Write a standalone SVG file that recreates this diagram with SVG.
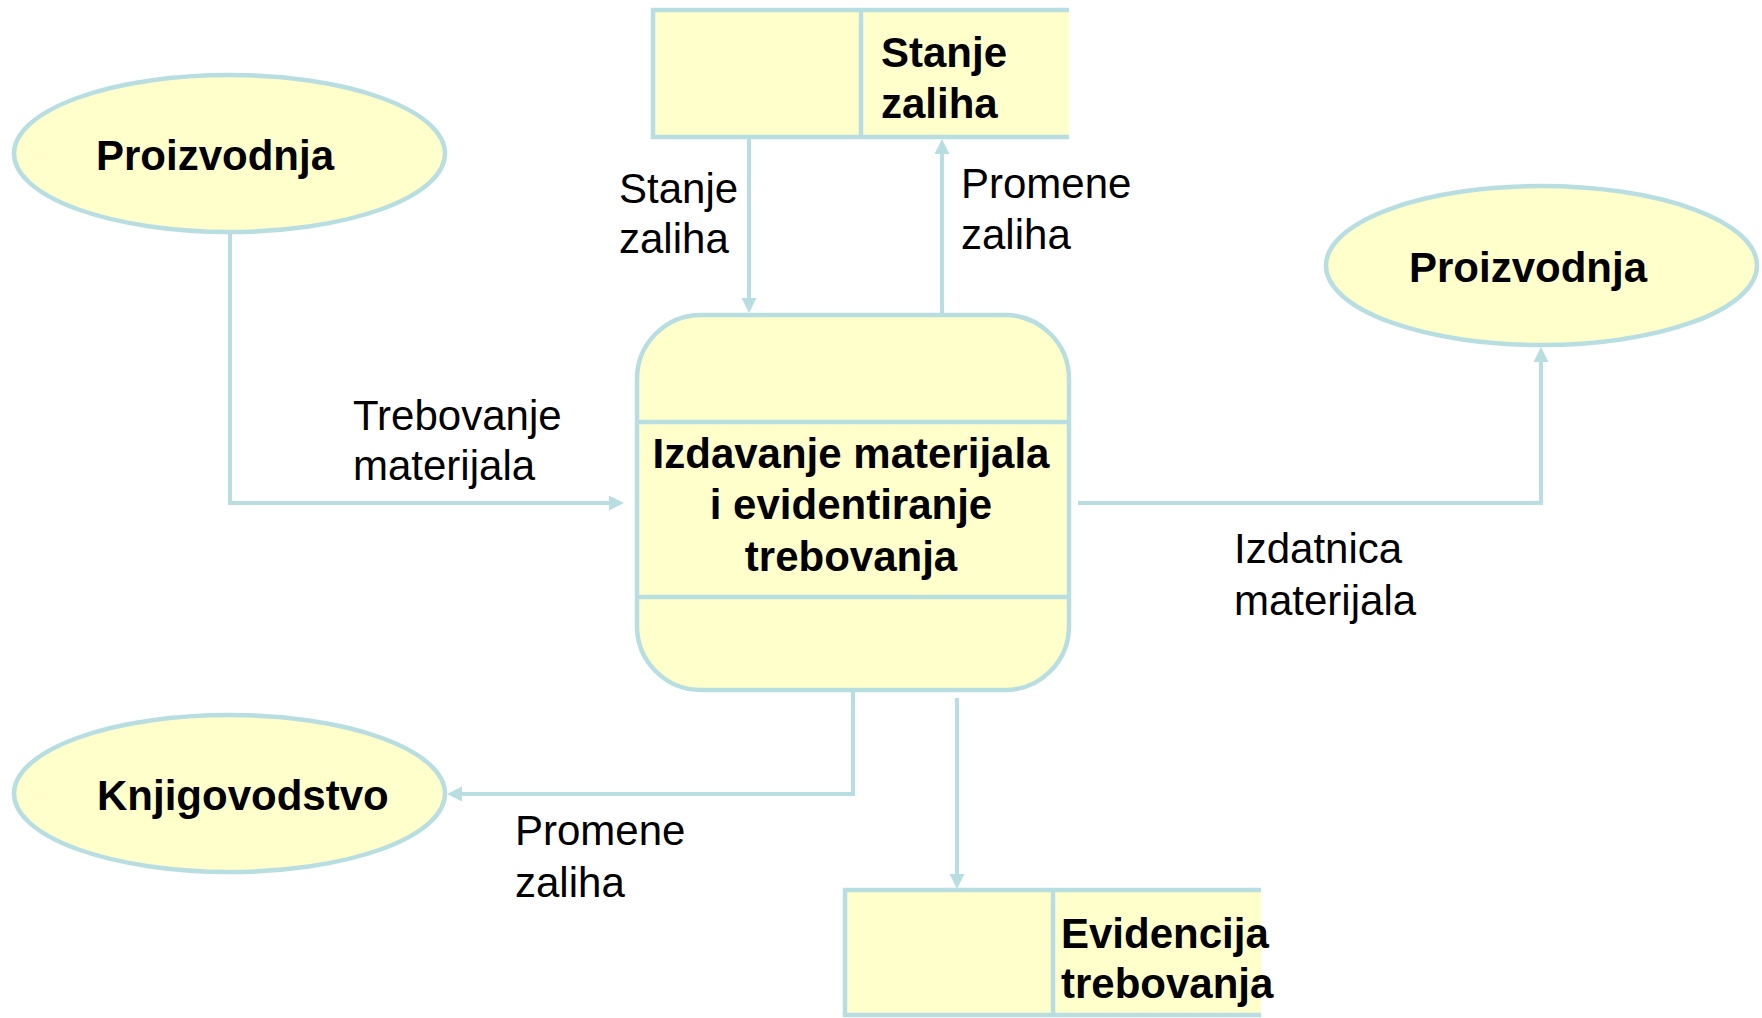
<svg xmlns="http://www.w3.org/2000/svg" width="1762" height="1018" viewBox="0 0 1762 1018">
<style>
.shape{fill:#FFFFCC;stroke:#B8DEE2;stroke-width:4.5}
.edge{fill:none;stroke:#B8DEE2;stroke-width:4}
.div{fill:none;stroke:#B8DEE2;stroke-width:4.5}
.b{font-family:"Liberation Sans",Arial,sans-serif;font-weight:bold;font-size:42px;fill:#000}
.t{font-family:"Liberation Sans",Arial,sans-serif;font-size:42px;fill:#000}
</style>
<defs>
<marker id="arr" markerUnits="userSpaceOnUse" markerWidth="16" markerHeight="16" refX="4" refY="7.5" orient="auto" viewBox="0 0 16 16">
<path d="M0,0 L15,7.5 L0,15 z" fill="#B8DEE2"/>
</marker>
</defs>
<rect width="1762" height="1018" fill="#FFFFFF"/>
<g id="connectors">
<path class="edge" d="M230,232 V503 H613" marker-end="url(#arr)"/>
<path class="edge" d="M749,139 V302" marker-end="url(#arr)"/>
<path class="edge" d="M942,313 V150" marker-end="url(#arr)"/>
<path class="edge" d="M1078,503 H1541 V358" marker-end="url(#arr)"/>
<path class="edge" d="M853,692 V794 H458" marker-end="url(#arr)"/>
<path class="edge" d="M957,698 V878" marker-end="url(#arr)"/>
</g>
<g id="label-stanje">
<text class="t" x="619" y="203">Stanje</text>
<text class="t" x="619" y="253">zaliha</text>
</g>
<g id="label-promene-top">
<text class="t" x="961" y="198">Promene</text>
<text class="t" x="961" y="249">zaliha</text>
</g>
<g id="label-trebovanje">
<text class="t" x="353" y="430">Trebovanje</text>
<text class="t" x="353" y="480">materijala</text>
</g>
<g id="label-izdatnica">
<text class="t" x="1234" y="563">Izdatnica</text>
<text class="t" x="1234" y="615">materijala</text>
</g>
<g id="label-promene-bottom">
<text class="t" x="515" y="845">Promene</text>
<text class="t" x="515" y="897">zaliha</text>
</g>
<g id="store-stanje">
<rect x="653" y="10" width="416" height="127" fill="#FFFFCC"/>
<path class="div" d="M1069,10 H653 V137 H1069 M861,10 V137"/>
<text class="b" x="881" y="67">Stanje</text>
<text class="b" x="881" y="118">zaliha</text>
</g>
<g id="ext-proizvodnja-left">
<ellipse class="shape" cx="229.5" cy="153.5" rx="215.5" ry="78.5"/>
<text class="b" x="96" y="170">Proizvodnja</text>
</g>
<g id="ext-proizvodnja-right">
<ellipse class="shape" cx="1541.5" cy="265.5" rx="215.5" ry="79.5"/>
<text class="b" x="1409" y="282">Proizvodnja</text>
</g>
<g id="process">
<rect class="shape" x="637" y="315" width="432" height="375" rx="64" ry="64"/>
<path class="div" d="M637,422 H1069 M637,597 H1069"/>
<text class="b" x="851" y="468" text-anchor="middle">Izdavanje materijala</text>
<text class="b" x="851" y="519" text-anchor="middle">i evidentiranje</text>
<text class="b" x="851" y="571" text-anchor="middle">trebovanja</text>
</g>
<g id="ext-knjigovodstvo">
<ellipse class="shape" cx="229.5" cy="793.5" rx="215.5" ry="78.5"/>
<text class="b" x="97" y="810">Knjigovodstvo</text>
</g>
<g id="store-evidencija">
<rect x="845" y="890" width="416" height="125" fill="#FFFFCC"/>
<path class="div" d="M1261,890 H845 V1015 H1261 M1053,890 V1015"/>
<text class="b" x="1061" y="948">Evidencija</text>
<text class="b" x="1061" y="998">trebovanja</text>
</g>
</svg>
